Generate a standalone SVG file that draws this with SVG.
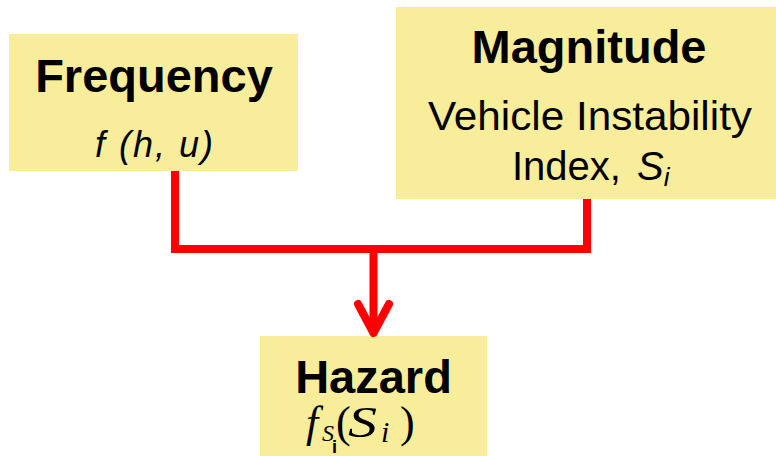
<svg xmlns="http://www.w3.org/2000/svg" width="776" height="456" viewBox="0 0 776 456">
<style>
.box{fill:#F8ED9B;}
.t{font-family:"Liberation Sans",Arial,sans-serif;fill:#000;}
.b{font-weight:bold;font-size:47px;}
.r{font-size:40px;}
.m{font-family:"Liberation Serif","Times New Roman",serif;font-style:italic;fill:#000;font-size:44px;}
.n{font-style:normal;}
.conn{fill:none;stroke:#FF0000;stroke-width:8;}
</style>
<rect width="776" height="456" fill="#fff"/>
<g id="frequency">
<rect class="box" x="9" y="34" width="289" height="137"/>
<text class="t b" x="154" y="92" text-anchor="middle">Frequency</text>
<text class="t" x="154" y="157" text-anchor="middle" font-size="36" font-style="italic" textLength="118" lengthAdjust="spacing">f (h, u)</text>
</g>
<g id="magnitude">
<rect class="box" x="396" y="7" width="380" height="192"/>
<text class="t b" x="589" y="63" text-anchor="middle">Magnitude</text>
<text class="t r" x="590" y="130" text-anchor="middle" textLength="324" lengthAdjust="spacingAndGlyphs">Vehicle Instability</text>
<text class="t r" x="512" y="180">Index, <tspan font-style="italic" x="637">S</tspan><tspan font-style="italic" font-size="26" dy="6">i</tspan></text>
</g>
<g id="hazard">
<rect class="box" x="260" y="336" width="227" height="120"/>
<text class="t b" x="373.5" y="393" text-anchor="middle">Hazard</text>
<text class="m"><tspan x="306" y="437">f</tspan><tspan x="322" y="441" font-size="24">S</tspan><tspan x="332" y="453" font-size="18" class="n" font-weight="bold" font-family="Liberation Sans, Arial, sans-serif">i</tspan><tspan x="336" y="437" class="n">(</tspan><tspan x="348" y="437" textLength="29" lengthAdjust="spacingAndGlyphs">S</tspan><tspan x="381" y="442" font-size="30">i</tspan><tspan x="400" y="437" class="n">)</tspan></text>
</g>
<g id="connectors">
<path class="conn" d="M175,171 V249 H587 V199" stroke-linejoin="miter"/>
<path class="conn" d="M373.5,249 V333"/>
<path class="conn" d="M358,304 L373.5,333 L389,304" stroke-linecap="round" stroke-linejoin="round"/>
</g>
</svg>
